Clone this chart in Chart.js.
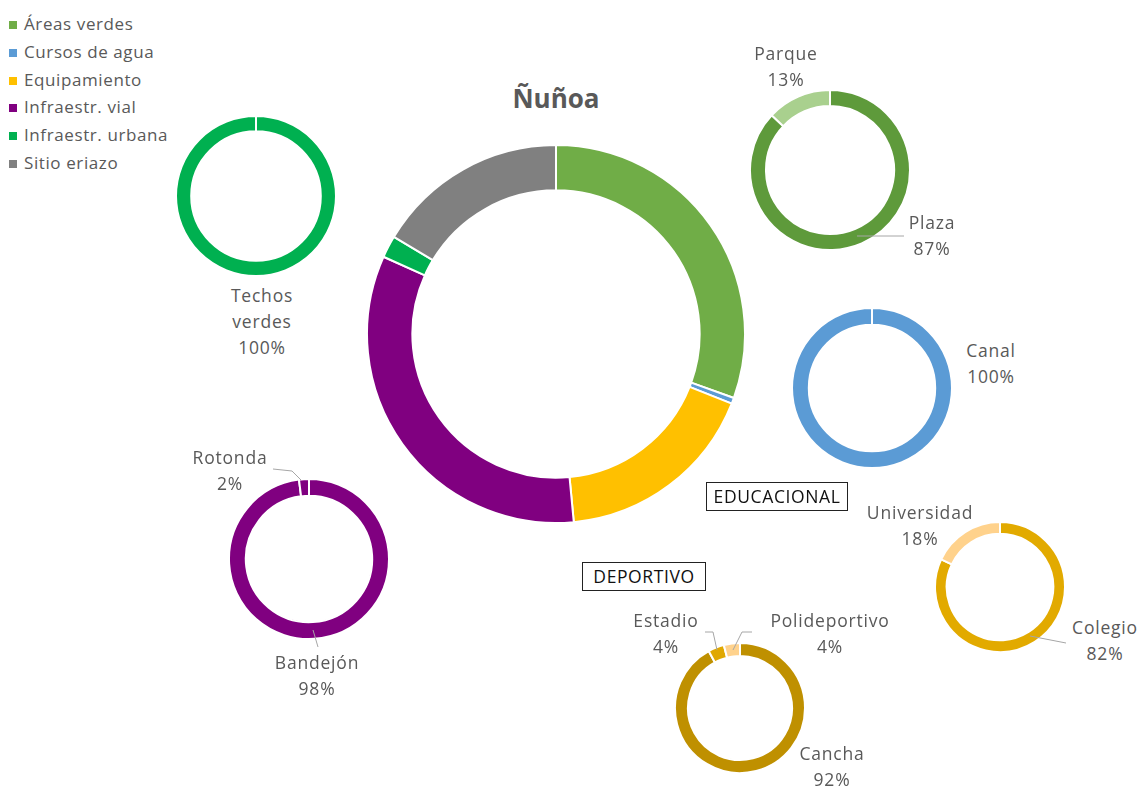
<!DOCTYPE html>
<html>
<head>
<meta charset="utf-8">
<script src="https://cdn.jsdelivr.net/npm/chart.js@4.4.0/dist/chart.umd.min.js"></script>
<style>
  body { margin: 0; background: #fff; width: 1139px; height: 788px; position: relative; overflow: hidden;
         font-family: 'Open Sans', sans-serif; color: #595959; }
  canvas { position: absolute; }
  .lbl { position: absolute; text-align: center; font-size: 17.5px; letter-spacing: 0.8px; line-height: 26px; white-space: nowrap; transform: translateX(-50%); }
  .box { position: absolute; border: 1px solid #222; color: #111; font-size: 17.5px; letter-spacing: 0.6px; text-align: center; line-height: 27px; }
  .leg { position: absolute; left: 9px; font-size: 17px; letter-spacing: 0.6px; line-height: 20px; white-space: nowrap; }
  .leg i { display: inline-block; width: 8px; height: 8px; margin-right: 7px; vertical-align: 1px; }
  #title { position: absolute; left: 556px; top: 80px; transform: translateX(-50%); font-size: 26px; font-weight: bold; }
  svg { position: absolute; left: 0; top: 0; }
</style>
</head>
<body>
<script>
// main doughnut
const mainLabels = ['Áreas verdes', 'Cursos de agua', 'Equipamiento', 'Infraestr. vial', 'Infraestr. urbana', 'Sitio eriazo'];
const mainValues = [30.5, 0.5, 17.5, 33.2, 1.9, 16.4];
const mainColors = ['#70AD47', '#5B9BD5', '#FFC000', '#800080', '#00B050', '#808080'];

// detail doughnuts
const techosLabels = ['Techos verdes'];
const techosValues = [100];
const verdesLabels = ['Plaza', 'Parque'];
const verdesValues = [87, 13];
const aguaLabels = ['Canal'];
const aguaValues = [100];
const vialLabels = ['Bandejón', 'Rotonda'];
const vialValues = [98, 2];
const deporLabels = ['Cancha', 'Estadio', 'Polideportivo'];
const deporValues = [92, 4, 4];
const educLabels = ['Colegio', 'Universidad'];
const educValues = [82, 18];

function addCanvas(cx, cy, r) {
    const c = document.createElement('canvas');
    const size = 2 * r + 2;
    c.width = size; c.height = size;
    c.style.left = (cx - size / 2) + 'px';
    c.style.top = (cy - size / 2) + 'px';
    document.body.appendChild(c);
    return c;
}

function donut(cx, cy, r, labels, values, colors, cutout) {
    new Chart(addCanvas(cx, cy, r), {
        type: 'doughnut',
        data: {
            labels: labels,
            datasets: [{
                data: values,
                backgroundColor: colors,
                borderColor: '#ffffff',
                borderWidth: 2
            }]
        },
        options: {
            responsive: false,
            animation: false,
            cutout: cutout,
            layout: { padding: 0 },
            plugins: {
                legend: { display: false },
                tooltip: { enabled: false }
            }
        }
    });
}

donut(556, 334, 189, mainLabels, mainValues, mainColors, '76%');
donut(256, 196, 80, techosLabels, techosValues, ['#00B050'], '81%');
donut(830, 170, 80, verdesLabels, verdesValues, ['#5E9A3B', '#A9D08E'], '80%');
donut(872, 388, 80, aguaLabels, aguaValues, ['#5B9BD5'], '79%');
donut(309, 559, 80, vialLabels, vialValues, ['#800080', '#800080'], '79%');
donut(740, 708, 65, deporLabels, deporValues, ['#BF9000', '#E0A800', '#FFD28C'], '80%');
donut(1000, 587, 65, educLabels, educValues, ['#E2AA00', '#FFD28C'], '82%');

// text: legend, title, data labels, boxes
function div(cls, html, x, y, extra) {
    const d = document.createElement('div');
    d.className = cls;
    d.innerHTML = html;
    d.style.left = x + 'px';
    d.style.top = y + 'px';
    if (extra) Object.assign(d.style, extra);
    document.body.appendChild(d);
    return d;
}

const legY = [25, 53, 81, 108, 136, 164];
mainLabels.forEach((l, i) => {
    div('leg', '<i style="background:' + mainColors[i] + '"></i>' + l, 9, legY[i] - 11);
});

div('', 'Ñuñoa', 556, 80).id = 'title';

function pct(v) { return Math.round(v) + '%'; }
div('lbl', 'Techos<br>verdes<br>' + pct(techosValues[0]), 262, 282);
div('lbl', verdesLabels[1] + '<br>' + pct(verdesValues[1]), 786, 40);
div('lbl', verdesLabels[0] + '<br>' + pct(verdesValues[0]), 932, 209);
div('lbl', aguaLabels[0] + '<br>' + pct(aguaValues[0]), 991, 337);
div('lbl', vialLabels[1] + '<br>' + pct(vialValues[1]), 230, 444);
div('lbl', vialLabels[0] + '<br>' + pct(vialValues[0]), 317, 649);
div('lbl', deporLabels[1] + '<br>' + pct(deporValues[1]), 666, 607);
div('lbl', deporLabels[2] + '<br>' + pct(deporValues[2]), 830, 607);
div('lbl', deporLabels[0] + '<br>' + pct(deporValues[0]), 832, 740);
div('lbl', educLabels[1] + '<br>' + pct(educValues[1]), 920, 499);
div('lbl', educLabels[0] + '<br>' + pct(educValues[0]), 1105, 614);

div('box', 'EDUCACIONAL', 706, 482, { width: '140px', height: '27px' });
div('box', 'DEPORTIVO', 582, 562, { width: '122px', height: '27px' });
</script>
<svg width="1139" height="788" fill="none" stroke="#A6A6A6" stroke-width="1">
  <polyline points="857,236 904,236"/>
  <polyline points="1030,636 1066,643"/>
  <polyline points="273,469 292,471 301,480"/>
  <polyline points="313,630 318,647"/>
  <polyline points="705,632 713,632 717,650"/>
  <polyline points="752,632 742,632 733,650"/>
</svg>
</body>
</html>
